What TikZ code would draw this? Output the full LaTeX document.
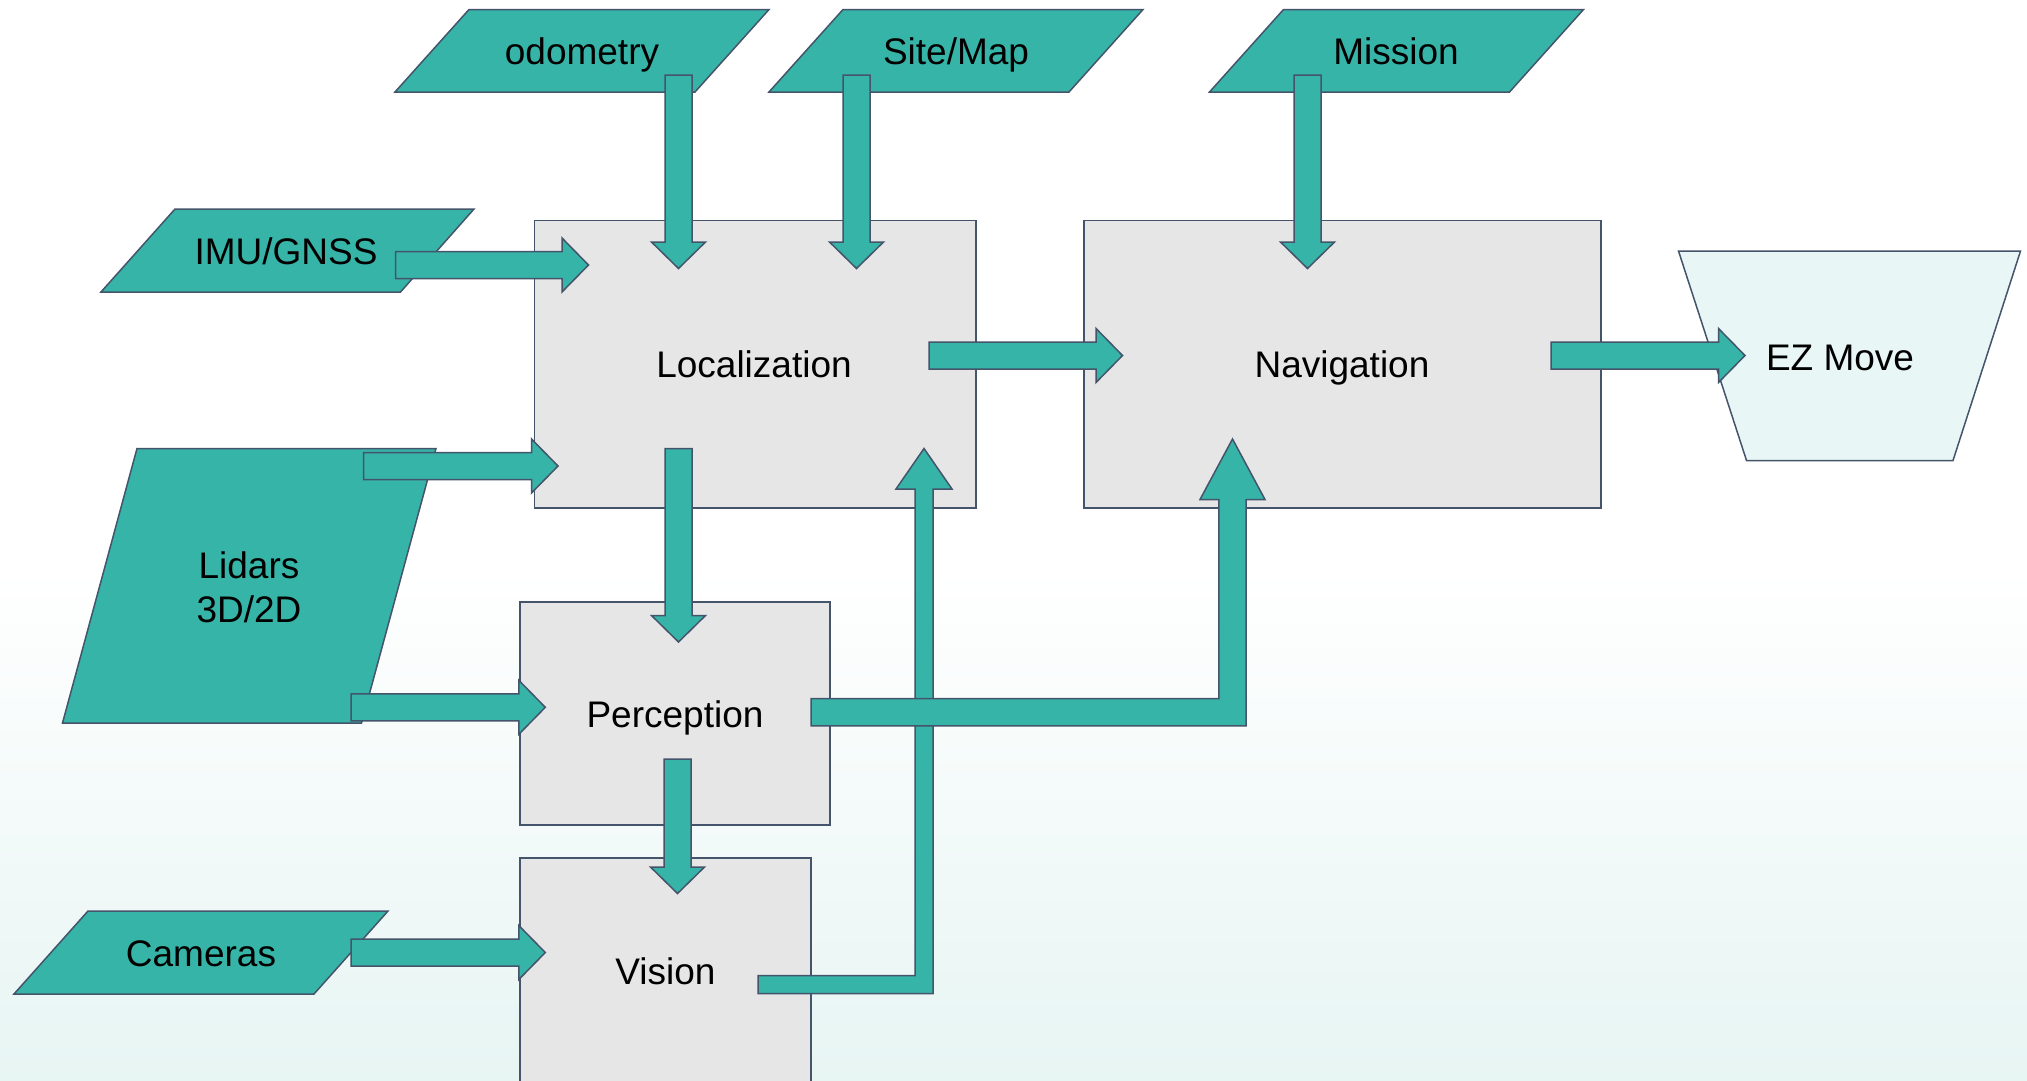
\documentclass[tikz,border=0pt]{standalone}
\usepackage{fontspec}
\setmainfont{Liberation Sans}
\usetikzlibrary{calc}

\definecolor{tealfill}{RGB}{54,180,168}
\definecolor{slateedge}{RGB}{68,84,106}
\definecolor{boxfill}{RGB}{230,230,230}
\definecolor{ezfill}{RGB}{232,246,245}
\definecolor{mintbg}{RGB}{231,245,243}

\tikzset{
  lbl/.style={font=\fontsize{37}{44}\selectfont, inner sep=0pt, anchor=base, text=black},
  inshape/.style={fill=tealfill, draw=slateedge, line width=1.5pt, line join=miter},
  procbox/.style={fill=boxfill, draw=slateedge, line width=1.5pt},
  outshape/.style={fill=ezfill, draw=slateedge, line width=1.5pt, line join=miter},
  blockarrow/.style={fill=tealfill, draw=slateedge, line width=1.5pt, line join=miter},
}

% straight block arrows: shaft half width, head half width, head length
\newcommand\bkS{13.5}
\newcommand\bkH{27}
\newcommand\bkL{26.5}
% rightward block arrow from #1 to tip #2
\newcommand\blkR[2]{\draw[blockarrow] ($(#1)+(0,-\bkS)$) -- ($(#2)+(-\bkL,-\bkS)$) -- ($(#2)+(-\bkL,-\bkH)$) -- (#2) -- ($(#2)+(-\bkL,\bkH)$) -- ($(#2)+(-\bkL,\bkS)$) -- ($(#1)+(0,\bkS)$) -- cycle;}
% downward block arrow from #1 to tip #2
\newcommand\blkD[2]{\draw[blockarrow] ($(#1)+(-\bkS,0)$) -- ($(#2)+(-\bkS,-\bkL)$) -- ($(#2)+(-\bkH,-\bkL)$) -- (#2) -- ($(#2)+(\bkH,-\bkL)$) -- ($(#2)+(\bkS,-\bkL)$) -- ($(#1)+(\bkS,0)$) -- cycle;}

\begin{document}
\begin{tikzpicture}[x=1pt, y=-1pt]
\useasboundingbox (0,0) rectangle (2027,1080);
\clip (0,0) rectangle (2027,1080);

% background
\fill[white] (0,0) rectangle (2027,570);
\shade[top color=white, bottom color=mintbg] (0,570) rectangle (2027,1080);

% input parallelograms
\draw[inshape] (395,92) -- (469,9.5) -- (769,9.5) -- (695,92) -- cycle;
\draw[inshape] (769,92) -- (843,9.5) -- (1143,9.5) -- (1069,92) -- cycle;
\draw[inshape] (1209.5,92) -- (1283.5,9.5) -- (1583.5,9.5) -- (1509.5,92) -- cycle;
\draw[inshape] (101,292) -- (175,209) -- (474,209) -- (400.5,292) -- cycle;
\draw[inshape] (62.5,723) -- (137,448.5) -- (436,448.5) -- (361.5,723) -- cycle;
\draw[inshape] (14,994) -- (88,911) -- (388,911) -- (314,994) -- cycle;

% processing blocks
\draw[procbox] (534.5,220.5) rectangle (976,508);
\draw[procbox] (1084,220.5) rectangle (1601,508);
\draw[procbox] (520,602) rectangle (830,825);
\draw[procbox] (520,858) rectangle (811,1100);

% output
\draw[outshape] (1678.5,251) -- (2020.5,251) -- (1953,460.5) -- (1746.5,460.5) -- cycle;

% labels
\node[lbl] (odo) at (582,64.7) {odometry};
\node[lbl] (map) at (956,64.7) {Site/Map};
\node[lbl] (mis) at (1396,64.7) {Mission};
\node[lbl] (imu) at (286,264.5) {IMU/GNSS};
\node[lbl, align=center, anchor=center] (lid) at (249,587) {Lidars\\3D/2D};
\node[lbl] (cam) at (201,966.3) {Cameras};
\node[lbl] (loc) at (754,377.7) {Localization};
\node[lbl] (nav) at (1342,377.7) {Navigation};
\node[lbl] (per) at (675,727) {Perception};
\node[lbl] (vis) at (665.5,984) {Vision};
\node[lbl] (ez) at (1840,370) {EZ Move};

% arrow ends
\coordinate (odoS) at (678.5,75);   \coordinate (odoT) at (678.5,268.5);
\coordinate (mapS) at (856.5,75);   \coordinate (mapT) at (856.5,268.5);
\coordinate (misS) at (1307.5,75);  \coordinate (misT) at (1307.5,268.5);
\coordinate (imuS) at (395.5,265);  \coordinate (imuT) at (588.5,265);
\coordinate (lidLS) at (363.5,466); \coordinate (lidLT) at (558,466);
\coordinate (locNS) at (929,355.5); \coordinate (locNT) at (1122.5,355.5);
\coordinate (navES) at (1551,355.5); \coordinate (navET) at (1745,355.5);
\coordinate (locPS) at (678.5,448.5); \coordinate (locPT) at (678.5,642);
\coordinate (lidPS) at (351,707.3); \coordinate (lidPT) at (545.3,707.3);
\coordinate (perVS) at (677.5,759); \coordinate (perVT) at (677.5,893.5);
\coordinate (camS) at (351,952.5);  \coordinate (camT) at (545.3,952.5);
\coordinate (visS) at (758,984.5);  \coordinate (visC) at (924,984.5); \coordinate (visT) at (924,448.5);
\coordinate (perNS) at (811,712.3); \coordinate (perNC) at (1232.5,712.3); \coordinate (perNT) at (1232.5,439);

% straight connectors
\blkD{odoS}{odoT}
\blkD{mapS}{mapT}
\blkD{misS}{misT}
\blkR{imuS}{imuT}
\blkR{lidLS}{lidLT}
\blkR{locNS}{locNT}
\blkR{navES}{navET}
\blkD{locPS}{locPT}
\blkR{lidPS}{lidPT}
\blkD{perVS}{perVT}
\blkR{camS}{camT}

% Vision -> Localization
\draw[blockarrow] ($(visS)+(0,-9)$) -- ($(visC)+(-9,-9)$) -- ($(visT)+(-9,40.5)$) -- ($(visT)+(-28,40.5)$) -- (visT)
  -- ($(visT)+(28,40.5)$) -- ($(visT)+(9,40.5)$) -- ($(visC)+(9,9)$) -- ($(visS)+(0,9)$) -- cycle;
% Perception -> Navigation
\draw[blockarrow] ($(perNS)+(0,-13.6)$) -- ($(perNC)+(-13.6,-13.6)$) -- ($(perNT)+(-13.6,60.5)$) -- ($(perNT)+(-32.5,60.5)$) -- (perNT)
  -- ($(perNT)+(32.5,60.5)$) -- ($(perNT)+(13.6,60.5)$) -- ($(perNC)+(13.6,13.6)$) -- ($(perNS)+(0,13.6)$) -- cycle;
\end{tikzpicture}
\end{document}
